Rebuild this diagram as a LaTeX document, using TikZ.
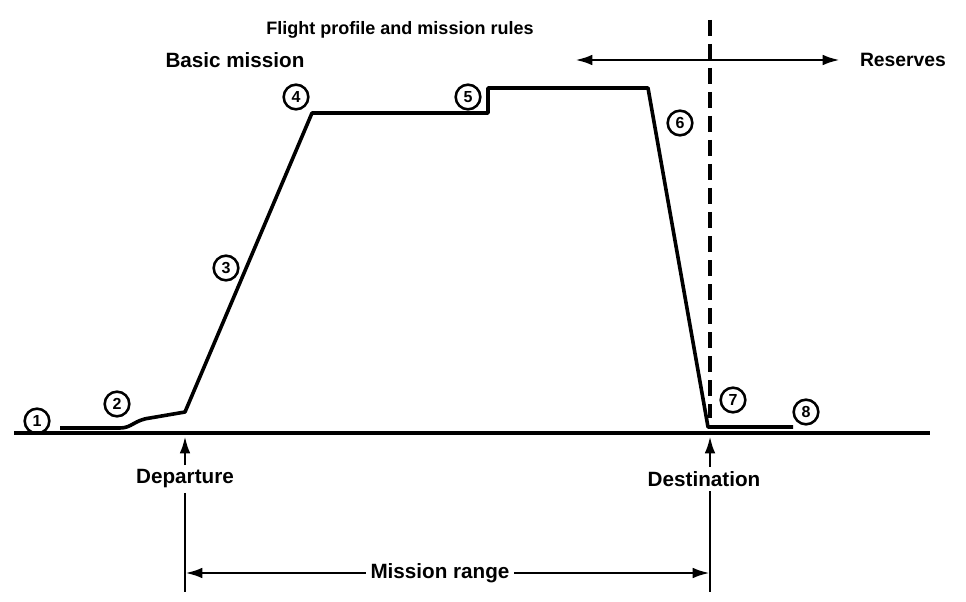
\documentclass[tikz,border=0pt]{standalone}
\usepackage{fontspec}
\setmainfont{Liberation Sans}
\usetikzlibrary{arrows.meta,positioning}

\begin{document}
\begin{tikzpicture}[x=0.75pt,y=-0.75pt,>={Latex[length=13pt,width=8pt]},font=\fontsize{15.5}{18}\selectfont\bfseries]
\tikzset{stage/.style={circle,draw,line width=1.9pt,inner sep=0pt,minimum size=18.5pt,font=\fontsize{12}{12}\selectfont\bfseries},
profile/.style={line width=2.7pt,line join=round},
marker/.style={line width=2.2pt}}
\useasboundingbox (0,0) rectangle (966,602);

% Header
\path
(400,30)      node[font=\fontsize{13.5}{16}\selectfont\bfseries] (title) {Flight profile and mission rules}
(235,60)      node (basic) {Basic mission}
(903,60)      node[font=\fontsize{14.5}{16}\selectfont\bfseries] (res) {Reserves}
;
\coordinate (bl) at (575,60);
\coordinate (br) at (840,60);
\draw[<->, marker] (bl)--(br);

% Ground and profile
\coordinate (g0) at (14,433);
\coordinate (g1) at (930,433);
\draw[line width=2.8pt] (g0)--(g1);

\coordinate (p1) at (60,428);
\coordinate (p2) at (120,428);
\coordinate (p3) at (185,412);
\coordinate (p4) at (312,113);
\coordinate (p5) at (488,113);
\coordinate (p6) at (488,88);
\coordinate (p7) at (648,88);
\coordinate (p8) at (708,427);
\coordinate (p9) at (793,427);
\draw[profile] (p1)--(p2) .. controls (132,428) and (134,420) .. (150,418) -- (p3)--(p4)--(p5)--(p6)--(p7)--(p8)--(p9);

% Mission stages
\path
(37,421)      node[stage] (s1) {1}
(117,404)     node[stage] (s2) {2}
(226,268)     node[stage] (s3) {3}
(296,97)      node[stage] (s4) {4}
(468,97)      node[stage] (s5) {5}
(680,123)     node[stage] (s6) {6}
(733,400)     node[stage] (s7) {7}
(806,412)     node[stage] (s8) {8}
;

% Reserve boundary
\coordinate (d0) at (710,20);
\coordinate (d1) at (710,418);
\draw[line width=2.4pt, dash pattern=on 12pt off 6pt] (d0)--(d1);

% Departure and destination
\path
(185,479)     node (dep) {Departure}
(704,479)     node (dest) {Destination}
(440,573)     node (range) {Mission range}
;
\coordinate (depg) at (185,436);
\coordinate (depb) at (185,592);
\coordinate (destg) at (710,436);
\coordinate (destb) at (710,592);
\coordinate (rl) at (185,573);
\coordinate (rr) at (710,573);
\draw[->, marker] (dep)--(depg);
\draw[marker] (dep)--(depb);
\draw[->, marker] (dest.north -| destg)--(destg);
\draw[marker] (dest.south -| destb)--(destb);
\draw[->, marker] (range)--(rl);
\draw[->, marker] (range)--(rr);

\end{tikzpicture}
\end{document}
